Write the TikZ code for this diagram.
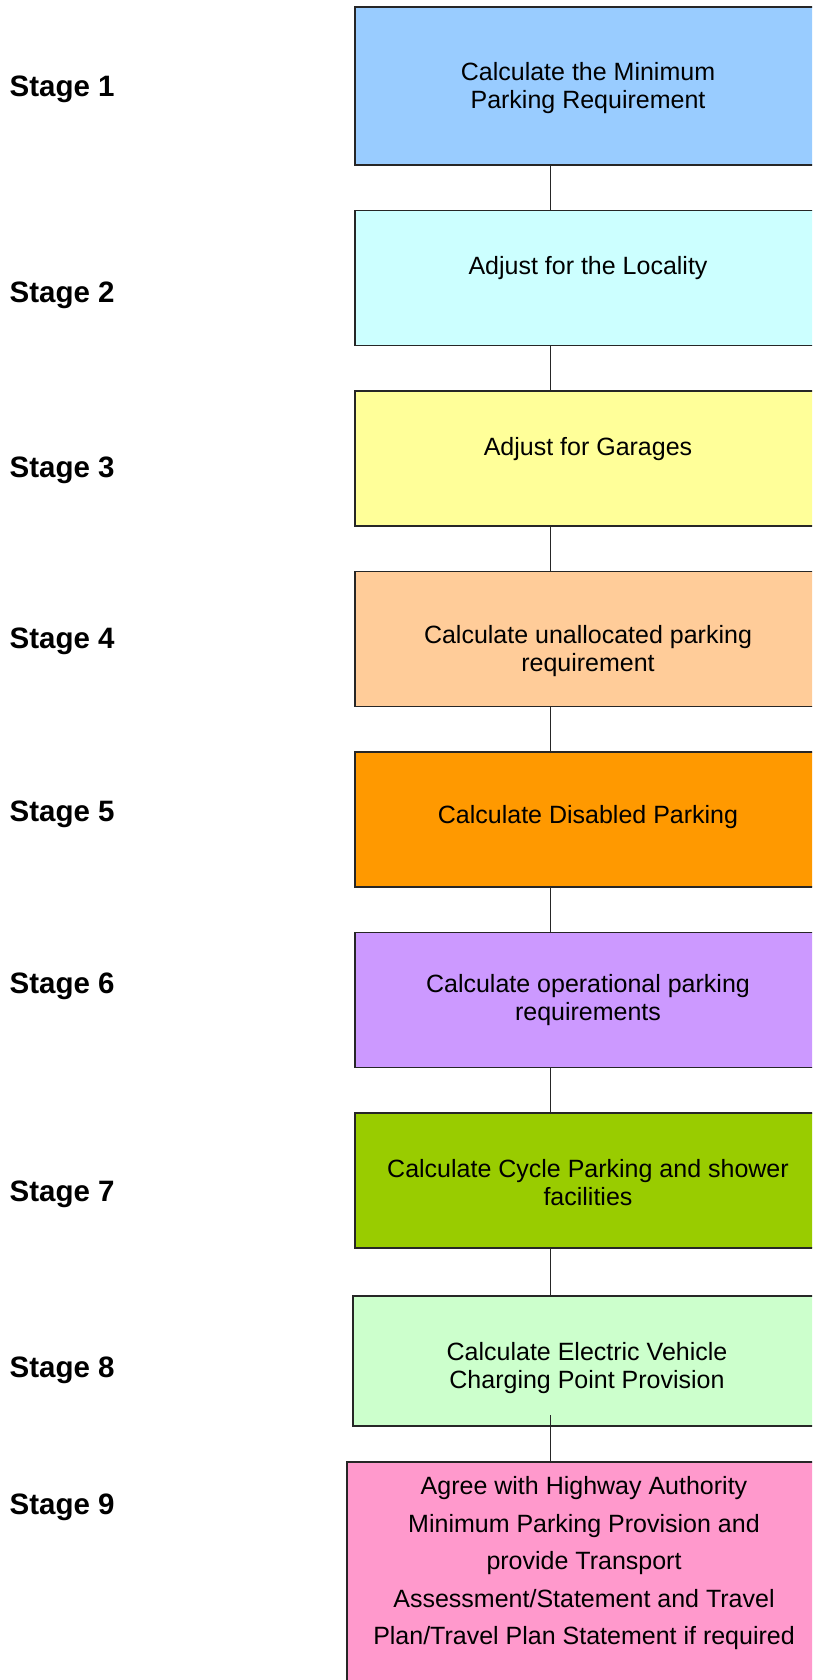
\documentclass[tikz,border=0pt]{standalone}
\usepackage{fontspec}
\setmainfont{Liberation Sans}
\definecolor{cA}{HTML}{99CCFF}
\definecolor{cB}{HTML}{CCFFFF}
\definecolor{cC}{HTML}{FFFF99}
\definecolor{cD}{HTML}{FFCC99}
\definecolor{cE}{HTML}{FF9900}
\definecolor{cF}{HTML}{CC99FF}
\definecolor{cG}{HTML}{99CC00}
\definecolor{cH}{HTML}{CCFFCC}
\definecolor{cI}{HTML}{FF99CC}
\begin{document}
\begin{tikzpicture}[x=1pt,y=-1pt,
  stagebox/.style={draw=black!85, line width=1.3pt, inner sep=0pt},
  boxtext/.style={inner sep=0pt, align=center, font=\fontsize{25}{28}\selectfont},
  stagelabel/.style={anchor=west, inner sep=0pt, font=\fontsize{29.5}{33}\selectfont\bfseries},
  conn/.style={draw=black!85, line width=1.1pt}]
\useasboundingbox (0,0) rectangle (812,1680);
\clip (0,0) rectangle (812,1680);
% boxes ; right edge 821
\node[stagebox, fill=cA, minimum width=466pt, minimum height=158pt] (b1) at (588,86) {};
\node[stagebox, fill=cB, minimum width=466pt, minimum height=135pt] (b2) at (588,278) {};
\node[stagebox, fill=cC, minimum width=466pt, minimum height=135pt] (b3) at (588,458.5) {};
\node[stagebox, fill=cD, minimum width=466pt, minimum height=135pt] (b4) at (588,639) {};
\node[stagebox, fill=cE, minimum width=466pt, minimum height=135pt] (b5) at (588,819.5) {};
\node[stagebox, fill=cF, minimum width=466pt, minimum height=135pt] (b6) at (588,1000) {};
\node[stagebox, fill=cG, minimum width=466pt, minimum height=135pt] (b7) at (588,1180.5) {};
\node[stagebox, fill=cH, minimum width=468pt, minimum height=130pt] (b8) at (587,1361) {};
\node[stagebox, fill=cI, minimum width=474pt, minimum height=240pt] (b9) at (584,1582) {};
% texts
\node[boxtext] (t1) at (588,88.5) {Calculate the Minimum\\Parking Requirement};
\node[boxtext] (t2) at (588,268.5) {Adjust for the Locality};
\node[boxtext] (t3) at (588,449.5) {Adjust for Garages};
\node[boxtext] (t4) at (588,651.5) {Calculate unallocated parking\\requirement};
\node[boxtext] (t5) at (588,817.5) {Calculate Disabled Parking};
\node[boxtext] (t6) at (588,1000.5) {Calculate operational parking\\requirements};
\node[boxtext] (t7) at (588,1182.5) {Calculate Cycle Parking and shower\\facilities};
\node[boxtext] (t8) at (587,1368) {Calculate Electric Vehicle\\Charging Point Provision};
\node[boxtext, font=\fontsize{25}{37.5}\selectfont] (t9) at (584,1563.5) {Agree with Highway Authority\\Minimum Parking Provision and\\provide Transport\\Assessment/Statement and Travel\\Plan/Travel Plan Statement if required};
% stage labels
\node[stagelabel] (s1) at (9.5,89.5) {Stage 1};
\node[stagelabel] (s2) at (9.5,295.5) {Stage 2};
\node[stagelabel] (s3) at (9.5,470.5) {Stage 3};
\node[stagelabel] (s4) at (9.5,641.5) {Stage 4};
\node[stagelabel] (s5) at (9.5,814.5) {Stage 5};
\node[stagelabel] (s6) at (9.5,986.5) {Stage 6};
\node[stagelabel] (s7) at (9.5,1194.5) {Stage 7};
\node[stagelabel] (s8) at (9.5,1370.5) {Stage 8};
\node[stagelabel] (s9) at (9.5,1507.5) {Stage 9};
% connectors
\coordinate (cx) at (550.7,0);
\coordinate (c8) at (550.7,1415);
\draw[conn] (b1.south -| cx) -- (b2.north -| cx);
\draw[conn] (b2.south -| cx) -- (b3.north -| cx);
\draw[conn] (b3.south -| cx) -- (b4.north -| cx);
\draw[conn] (b4.south -| cx) -- (b5.north -| cx);
\draw[conn] (b5.south -| cx) -- (b6.north -| cx);
\draw[conn] (b6.south -| cx) -- (b7.north -| cx);
\draw[conn] (b7.south -| cx) -- (b8.north -| cx);
\draw[conn] (c8) -- (b9.north -| cx);
\end{tikzpicture}
\end{document}
